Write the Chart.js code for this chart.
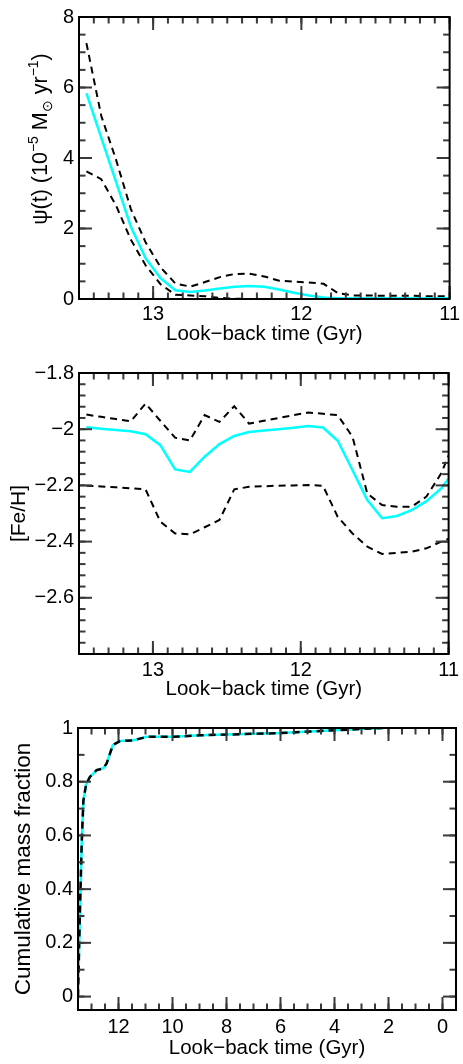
<!DOCTYPE html>
<html><head><meta charset="utf-8">
<script src="https://cdn.jsdelivr.net/npm/chart.js@4.4.1/dist/chart.umd.min.js"></script>
<style>
html,body{margin:0;padding:0;background:#fff;}
#wrap{position:relative;width:463px;height:1064px;overflow:hidden;background:#fff;}
canvas{position:absolute;left:0;}
</style></head><body>
<div id="wrap">
<canvas id="c1" width="463" height="360" style="top:0px"></canvas>
<canvas id="c2" width="463" height="365" style="top:345px"></canvas>
<canvas id="c3" width="463" height="364" style="top:700px"></canvas>
</div>
<script>
// ---------- DATA ----------
// Look-back time grid (Gyr) for panels 1 and 2
const tGrid = [13.45,13.35,13.25,13.15,13.05,12.95,12.85,12.75,12.65,12.55,12.45,12.35,12.25,12.15,12.05,11.95,11.85,11.75,11.65,11.55,11.45,11.35,11.25,11.15,11.05,10.95];
// Panel 1: star formation rate psi(t) (1e-5 Msun/yr)
const sfrMean = [5.84,4.58,3.32,2.05,1.15,0.59,0.25,0.20,0.24,0.30,0.35,0.37,0.35,0.27,0.18,0.10,0.04,0.02,0.02,0.02,0.02,0.02,0.02,0.02,0.02,0.02];
const sfrHigh = [7.26,5.20,3.95,2.55,1.60,0.90,0.44,0.35,0.48,0.62,0.71,0.72,0.64,0.52,0.49,0.47,0.43,0.16,0.10,0.10,0.09,0.09,0.09,0.08,0.08,0.08];
const sfrLow  = [3.62,3.40,2.65,1.68,0.95,0.42,0.12,0.10,0.08,0.03,0.01,0.00,0.00,0.00,0.00,0.00,0.00,0.00,0.00,0.00,0.00,0.00,0.00,0.00,0.00,0.00];
// Panel 2: metallicity [Fe/H]
const fehMean = [-1.993,-1.998,-2.003,-2.007,-2.018,-2.057,-2.143,-2.152,-2.098,-2.053,-2.024,-2.010,-2.005,-2.000,-1.995,-1.989,-1.994,-2.041,-2.146,-2.252,-2.317,-2.309,-2.288,-2.256,-2.211,-2.140];
const fehHigh = [-1.948,-1.956,-1.964,-1.972,-1.909,-1.970,-2.030,-2.040,-1.950,-1.974,-1.918,-1.980,-1.970,-1.960,-1.950,-1.941,-1.945,-1.950,-2.027,-2.229,-2.270,-2.276,-2.276,-2.240,-2.157,-2.030];
const fehLow  = [-2.201,-2.204,-2.207,-2.210,-2.214,-2.329,-2.371,-2.374,-2.349,-2.323,-2.214,-2.205,-2.203,-2.201,-2.200,-2.199,-2.201,-2.312,-2.371,-2.418,-2.444,-2.440,-2.436,-2.424,-2.400,-2.380];
// Panel 3: cumulative mass fraction
const cumTime = [13.5,13.43,13.36,13.30,13.20,13.06,12.81,12.56,12.44,12.21,11.94,11.45,10.95,9.97,8.98,6.01,4.53,3.05,2.20];
const cumFrac = [0.0,0.31,0.58,0.73,0.79,0.818,0.843,0.85,0.868,0.936,0.952,0.954,0.967,0.967,0.973,0.981,0.989,0.996,1.0];

// Tick labels
const xTicks12 = [13,12,11];
const yTicksSfr = [0,2,4,6,8];
const yTicksFeh = [-1.8,-2,-2.2,-2.4,-2.6];
const xTicks3 = [12,10,8,6,4,2,0];
const yTicks3 = [0,0.2,0.4,0.6,0.8,1];

// ---------- STYLE / HELPERS ----------
Chart.defaults.font.family = '"Liberation Sans", Arial, Helvetica, sans-serif';
Chart.defaults.color = '#000';
const CYAN = '#00ffff';
const TICK = '#3a3a3a';
const fmt = v => (v < 0 ? '\u2212' : '') + String(Math.abs(Math.round(v*1000)/1000));
const pts = (xs, ys) => xs.map((x, i) => ({x, y: ys[i]}));

function minorVals(min, max, step) {
  const out = [];
  const a = Math.ceil(min/step - 1e-6), b = Math.floor(max/step + 1e-6);
  for (let i = a; i <= b; i++) out.push(i*step);
  return out;
}

function makeFrameTicks(cfg) {
  return {
    id: 'ftk' + cfg.key,
    afterDraw(chart) {
      const ctx = chart.ctx, a = chart.chartArea, xs = chart.scales.x, ys = chart.scales.y;
      const px = v => { const p = xs.getPixelForValue(v); return isFinite(p) ? p : a.left + (cfg.xMax - v) / (cfg.xMax - cfg.xMin) * (a.right - a.left); };
      const py = v => { const p = ys.getPixelForValue(v); return isFinite(p) ? p : a.bottom - (v - cfg.yMin) / (cfg.yMax - cfg.yMin) * (a.bottom - a.top); };
      ctx.save();
      ctx.setLineDash([]);
      ctx.fillStyle = TICK;
      const w = 2;
      const doX = (vals, len) => vals.forEach(v => {
        const p = px(v);
        ctx.fillRect(p - w/2, a.bottom - len, w, len);
        ctx.fillRect(p - w/2, a.top, w, len);
      });
      const doY = (vals, len) => vals.forEach(v => {
        const p = py(v);
        ctx.fillRect(a.left, p - w/2, len, w);
        ctx.fillRect(a.right - len, p - w/2, len, w);
      });
      doX(minorVals(cfg.xMin, cfg.xMax, cfg.xMinor), 6.5);
      doX(cfg.xMajor, 13);
      doY(minorVals(cfg.yMin, cfg.yMax, cfg.yMinor), 6.5);
      doY(cfg.yMajor, 13);
      ctx.strokeStyle = '#000000';
      ctx.lineWidth = 2;
      ctx.strokeRect(a.left, a.top, a.right - a.left, a.bottom - a.top);
      ctx.restore();
    }
  };
}

const sfrTitle = {
  id: 'sfrTitle',
  afterDraw(chart) {
    const ctx = chart.ctx;
    const big = 21.5, small = 14;
    const fam = '"Liberation Sans", Arial, Helvetica, sans-serif';
    const parts = [
      ['\u03c8(t) (10', 0, big], ['\u22125', -9, small], [' M', 0, big],
      ['\u2299', 5, small], [' yr', 0, big], ['\u22121', -9, small], [')', 0, big]
    ];
    ctx.save();
    ctx.fillStyle = '#000';
    ctx.textBaseline = 'alphabetic';
    let total = 0;
    parts.forEach(p => { ctx.font = p[2] + 'px ' + fam; total += ctx.measureText(p[0]).width; });
    ctx.translate(47, 139);
    ctx.rotate(-Math.PI/2);
    let xp = -total/2;
    parts.forEach(p => {
      ctx.font = p[2] + 'px ' + fam;
      ctx.fillText(p[0], xp, p[1]);
      xp += ctx.measureText(p[0]).width;
    });
    ctx.restore();
  }
};

function makeChart(id, cfg) {
  cfg.key = id;
  return new Chart(document.getElementById(id), {
    type: 'line',
    data: { datasets: cfg.datasets },
    options: {
      responsive: false, animation: false, devicePixelRatio: 1,
      layout: { padding: { left: 0, right: cfg.padRight, top: cfg.padTop, bottom: 0 } },
      plugins: { legend: { display: false }, tooltip: { enabled: false }, title: { display: false } },
      elements: { point: { radius: 0 }, line: { tension: 0 } },
      scales: {
        x: {
          type: 'linear', reverse: true, min: cfg.xMin, max: cfg.xMax,
          grid: { display: false, drawTicks: false }, border: { display: false },
          afterBuildTicks: s => { s.ticks = cfg.xMajor.map(v => ({ value: v })); },
          afterFit: s => { s.height = cfg.xH; },
          ticks: { autoSkip: false, maxRotation: 0, padding: cfg.xTickPad, font: { size: 20 }, callback: v => fmt(v) },
          title: { display: true, text: 'Look\u2212back time (Gyr)', font: { size: 20.5 }, padding: { top: 0, bottom: cfg.xTitlePad } }
        },
        y: {
          type: 'linear', min: cfg.yMin, max: cfg.yMax,
          grid: { display: false, drawTicks: false }, border: { display: false },
          afterBuildTicks: s => { s.ticks = cfg.yMajor.map(v => ({ value: v })); },
          afterFit: s => { s.width = cfg.yW; },
          ticks: { autoSkip: false, padding: 5, font: { size: 20 }, callback: v => fmt(v) },
          title: cfg.yTitle ? { display: true, text: cfg.yTitle, font: { size: cfg.yTitleSize }, padding: { top: cfg.yTitlePad, bottom: 0 } } : { display: false }
        }
      }
    },
    plugins: [makeFrameTicks(cfg)].concat(cfg.plugins || [])
  });
}

const dashed = (data) => ({ data, borderColor: '#000', borderWidth: 2, borderDash: [7, 5], fill: false });
const solid = (data) => ({ data, borderColor: CYAN, borderWidth: 2.5, fill: false });

makeChart('c1', {
  datasets: [solid(pts(tGrid, sfrMean)), dashed(pts(tGrid, sfrHigh)), dashed(pts(tGrid, sfrLow))],
  xMin: 11, xMax: 13.5, yMin: 0, yMax: 8,
  xMajor: xTicks12, yMajor: yTicksSfr, xMinor: 0.1, yMinor: 0.5,
  padRight: 9, padTop: 17, yW: 79, xH: 61, xTickPad: 3, xTitlePad: 13,
  plugins: [sfrTitle]
});

makeChart('c2', {
  datasets: [solid(pts(tGrid, fehMean)), dashed(pts(tGrid, fehHigh)), dashed(pts(tGrid, fehLow))],
  xMin: 11, xMax: 13.5, yMin: -2.8, yMax: -1.8,
  xMajor: xTicks12, yMajor: yTicksFeh, xMinor: 0.1, yMinor: 0.04,
  padRight: 9, padTop: 28, yW: 79, xH: 56, xTickPad: 4, xTitlePad: 8,
  yTitle: '[Fe/H]', yTitleSize: 21, yTitlePad: 7
});

makeChart('c3', {
  datasets: [
    Object.assign(dashed(pts(cumTime, cumFrac)), { borderWidth: 2.5, order: 0 }),
    Object.assign(solid(pts(cumTime, cumFrac)), { order: 1 })
  ],
  xMin: -0.5, xMax: 13.5, yMin: -0.05, yMax: 1,
  xMajor: xTicks3, yMajor: yTicks3, xMinor: 0.5, yMinor: 0.1,
  padRight: 7, padTop: 28, yW: 78, xH: 54, xTickPad: 5, xTitlePad: 3,
  yTitle: 'Cumulative mass fraction', yTitleSize: 22.5, yTitlePad: 10
});
</script>
</body></html>
